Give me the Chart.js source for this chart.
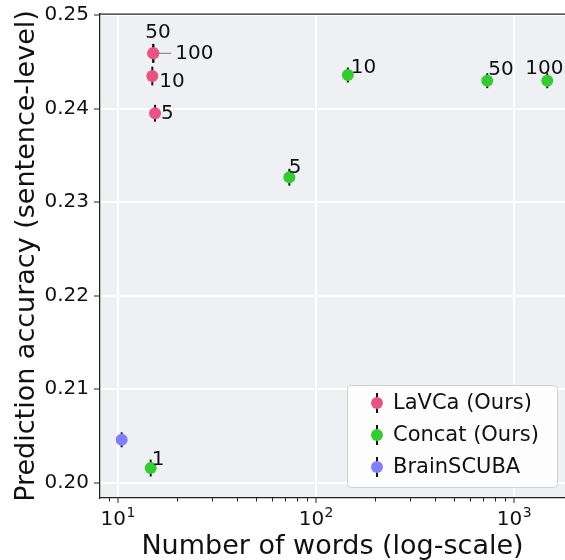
<!DOCTYPE html>
<html>
<head>
<meta charset="utf-8">
<script src="https://cdn.jsdelivr.net/npm/chart.js@4/dist/chart.umd.min.js"></script>
<style>
    html, body { margin: 0; padding: 0; background: #fff; }
    canvas { display: block; }
</style>
</head>
<body>
<canvas id="chart" width="565" height="560"></canvas>
<script>
// Data
const lavcaWords = [15.43, 14.95, 15.12, 15.12];
const lavcaAcc = [0.2395, 0.24348, 0.24591, 0.24591];
const lavcaErr = [0.0009, 0.001, 0.001, 0.001];
const lavcaTags = ["5", "10", "50", "100"];

const concatWords = [14.67, 73.5, 145, 733, 1472];
const concatAcc = [0.20157, 0.23266, 0.24359, 0.24298, 0.24298];
const concatErr = [0.0009, 0.0009, 0.0008, 0.0008, 0.0008];
const concatTags = ["1", "5", "10", "50", "100"];

const scubaWords = [10.47];
const scubaAcc = [0.20459];
const scubaErr = [0.0008];

const yTicks = [0.20, 0.21, 0.22, 0.23, 0.24, 0.25];
const xMajor = [10, 100, 1000];
const xExponents = ["1", "2", "3"];
const xMinor = [9, 20, 30, 40, 50, 60, 70, 80, 90, 200, 300, 400, 500, 600, 700, 800, 900];

// label offsets in px (text placement only)
const lavcaTagOffsets = [[6, 6], [7, 11], [-8, -15], [22, 6]];
const concatTagOffsets = [[1, -3], [-0.5, -4], [3, -2], [1, -6], [-22, -7]];

const PINK = "#e8547f";
const GREEN = "#33cc33";
const BLUE = "#8080ff";
const FONT = "'DejaVu Sans', sans-serif";

function toPoints(xs, ys) {
    return xs.map((x, i) => ({ x: x, y: ys[i] }));
}

const errs = [lavcaErr, concatErr, scubaErr];

// plot background, top spine, minor ticks and 10^n tick labels
const framePlugin = {
    id: "frame",
    beforeDraw(chart) {
        const { ctx, chartArea: a } = chart;
        ctx.save();
        ctx.fillStyle = "#eff0f3";
        ctx.fillRect(a.left, a.top, a.right - a.left, a.bottom - a.top);
        ctx.restore();
    },
    afterDraw(chart) {
        const { ctx, chartArea: a } = chart;
        const xs = chart.scales.x;
        ctx.save();
        ctx.strokeStyle = "#222";
        ctx.lineWidth = 1.25;
        ctx.beginPath();
        ctx.moveTo(a.left, a.top);
        ctx.lineTo(a.right, a.top);
        ctx.stroke();
        ctx.lineWidth = 1;
        xMinor.forEach(v => {
            const px = Math.round(xs.getPixelForValue(v)) + 0.5;
            ctx.beginPath();
            ctx.moveTo(px, a.bottom);
            ctx.lineTo(px, a.bottom + 3.5);
            ctx.stroke();
        });

        // "10" with a raised exponent, centred on the tick
        ctx.fillStyle = "#111";
        ctx.textBaseline = "alphabetic";
        ctx.textAlign = "left";
        const base = a.bottom + 27;
        xMajor.forEach((v, i) => {
            ctx.font = "20px " + FONT;
            const w1 = ctx.measureText("10").width;
            ctx.font = "14px " + FONT;
            const w2 = ctx.measureText(xExponents[i]).width;
            const x0 = xs.getPixelForValue(v) - (w1 + w2) / 2;
            ctx.font = "20px " + FONT;
            ctx.fillText("10", x0, base);
            ctx.font = "14px " + FONT;
            ctx.fillText(xExponents[i], x0 + w1 + 0.5, base - 8);
        });
        ctx.restore();
    }
};

// vertical error bars, under the dots
const errorBarPlugin = {
    id: "errorBars",
    beforeDatasetsDraw(chart) {
        const { ctx } = chart;
        const ys = chart.scales.y;
        ctx.save();
        ctx.strokeStyle = "#111";
        ctx.lineWidth = 2;
        chart.data.datasets.forEach((ds, di) => {
            const meta = chart.getDatasetMeta(di);
            meta.data.forEach((el, i) => {
                const v = ds.data[i].y;
                ctx.beginPath();
                ctx.moveTo(el.x, ys.getPixelForValue(v - errs[di][i]));
                ctx.lineTo(el.x, ys.getPixelForValue(v + errs[di][i]));
                ctx.stroke();
            });
        });
        ctx.restore();
    }
};

// point annotations
const tagPlugin = {
    id: "tags",
    afterDatasetsDraw(chart) {
        const { ctx } = chart;
        ctx.save();
        ctx.font = "20px " + FONT;
        ctx.fillStyle = "#111";
        ctx.textAlign = "left";
        ctx.textBaseline = "alphabetic";

        const lav = chart.getDatasetMeta(0).data;
        lav.forEach((el, i) => {
            const o = lavcaTagOffsets[i];
            ctx.fillText(lavcaTags[i], el.x + o[0], el.y + o[1]);
        });
        // connector for the "100" tag
        const p = lav[3];
        ctx.strokeStyle = "#777";
        ctx.lineWidth = 1;
        ctx.beginPath();
        ctx.moveTo(p.x + 4, p.y);
        ctx.lineTo(p.x + 18, p.y);
        ctx.stroke();

        chart.getDatasetMeta(1).data.forEach((el, i) => {
            const o = concatTagOffsets[i];
            ctx.fillText(concatTags[i], el.x + o[0], el.y + o[1]);
        });
        ctx.restore();
    }
};

// legend drawn inside the plot, lower right
const legendPlugin = {
    id: "boxLegend",
    afterDraw(chart) {
        const { ctx } = chart;
        const bx = 347, by = 385, bw = 210, bh = 102, r = 4;
        ctx.save();
        ctx.fillStyle = "rgba(255,255,255,0.85)";
        ctx.strokeStyle = "#d0d0d0";
        ctx.lineWidth = 1;
        ctx.beginPath();
        ctx.roundRect(bx + 0.5, by + 0.5, bw, bh, r);
        ctx.fill();
        ctx.stroke();

        ctx.font = "21px " + FONT;
        ctx.textBaseline = "middle";
        ctx.fillStyle = "#111";
        chart.data.datasets.forEach((ds, i) => {
            const cy = 403 + i * 32;
            ctx.strokeStyle = "#111";
            ctx.lineWidth = 2;
            ctx.beginPath();
            ctx.moveTo(377, cy - 10);
            ctx.lineTo(377, cy + 10);
            ctx.stroke();
            ctx.fillStyle = ds.backgroundColor;
            ctx.beginPath();
            ctx.arc(377, cy, 6, 0, Math.PI * 2);
            ctx.fill();
            ctx.fillStyle = "#111";
            ctx.fillText(ds.label, 393, cy + 1);
        });
        ctx.restore();
    }
};

new Chart(document.getElementById("chart"), {
    type: "scatter",
    data: {
        datasets: [
            { label: "LaVCa (Ours)", data: toPoints(lavcaWords, lavcaAcc), backgroundColor: PINK, borderColor: PINK },
            { label: "Concat (Ours)", data: toPoints(concatWords, concatAcc), backgroundColor: GREEN, borderColor: GREEN },
            { label: "BrainSCUBA", data: toPoints(scubaWords, scubaAcc), backgroundColor: BLUE, borderColor: BLUE }
        ]
    },
    options: {
        responsive: false,
        animation: false,
        devicePixelRatio: 1,
        layout: { autoPadding: false, padding: { top: 14, right: 0, left: 0, bottom: 0 } },
        elements: { point: { radius: 6, borderWidth: 0, hoverRadius: 6 } },
        plugins: { legend: { display: false }, tooltip: { enabled: false } },
        scales: {
            x: {
                type: "logarithmic",
                min: 8.14,
                max: 1809,
                afterBuildTicks: s => { s.ticks = xMajor.map(v => ({ value: v })); },
                afterFit: s => { s.height = 62; s.paddingLeft = 0; s.paddingRight = 0; },
                ticks: { display: false, autoSkip: false, maxRotation: 0 },
                grid: { color: "#fff", lineWidth: 2, tickColor: "#222", tickLength: 5, tickWidth: 1 },
                border: { display: true, color: "#222", width: 1.25 },
                title: {
                    display: true,
                    text: "Number of words (log-scale)",
                    color: "#111",
                    font: { family: FONT, size: 27, lineHeight: 1 },
                    padding: { top: 0, bottom: 0 }
                }
            },
            y: {
                min: 0.19837,
                max: 0.25011,
                afterBuildTicks: s => { s.ticks = yTicks.map(v => ({ value: v })); },
                afterFit: s => { s.width = 100; s.paddingTop = 0; s.paddingBottom = 0; },
                ticks: {
                    color: "#111",
                    font: { family: FONT, size: 20 },
                    padding: 5,
                    callback: v => v.toFixed(2)
                },
                grid: { color: "#fff", lineWidth: 2, tickColor: "#222", tickLength: 6, tickWidth: 1 },
                border: { display: true, color: "#222", width: 1.25 },
                title: {
                    display: true,
                    text: "Prediction accuracy (sentence-level)",
                    color: "#111",
                    font: { family: FONT, size: 27, lineHeight: 1 },
                    padding: { top: 13, bottom: 0 }
                }
            }
        }
    },
    plugins: [framePlugin, errorBarPlugin, tagPlugin, legendPlugin]
});
</script>
</body>
</html>
